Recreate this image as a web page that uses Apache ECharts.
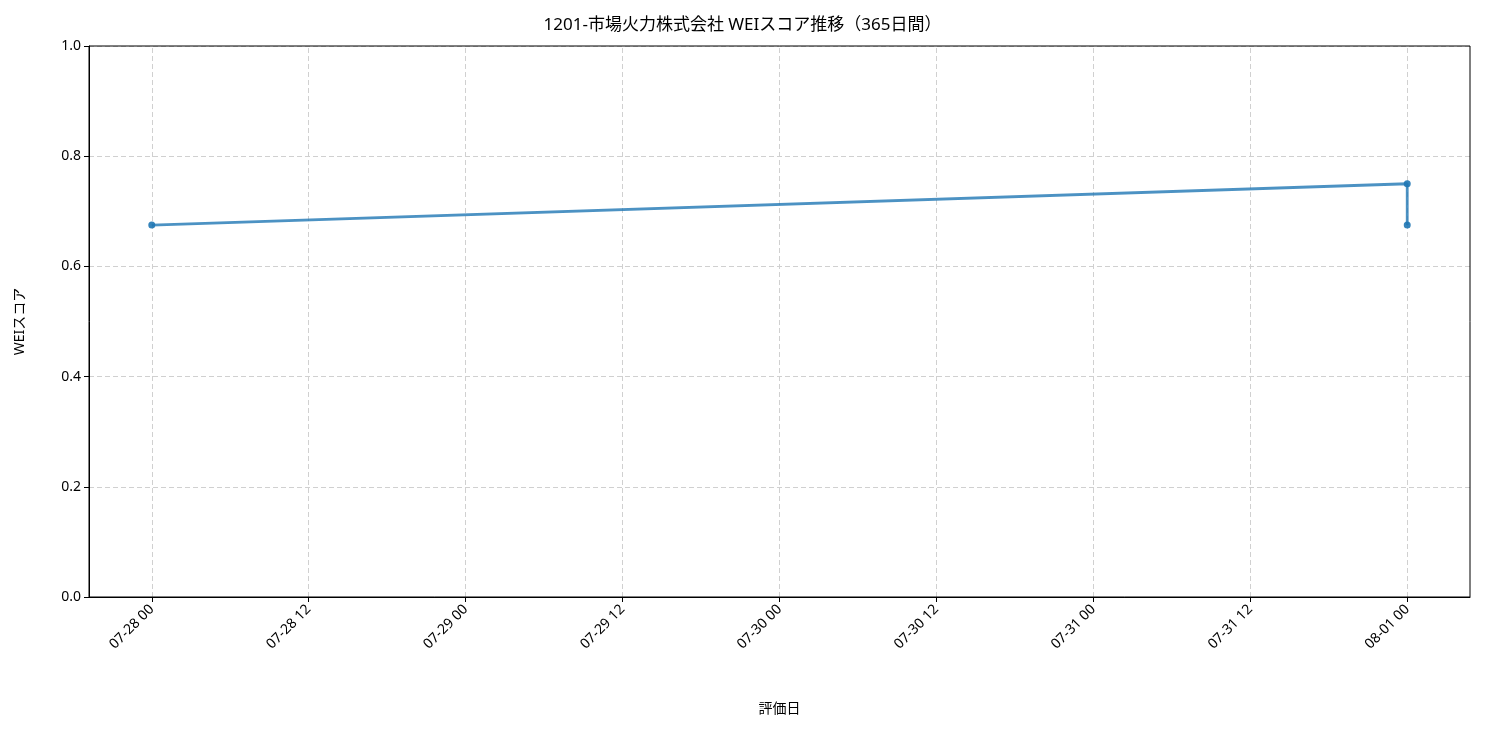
<!DOCTYPE html>
<html><head><meta charset="utf-8">
<script src="https://cdn.jsdelivr.net/npm/echarts@6/dist/echarts.min.js"></script>
<style>html,body{margin:0;padding:0;background:#fff}#c{width:1485px;height:735px}</style>
</head><body><div id="c"></div>
<script>
const dates = ["2025-07-28T00:00", "2025-08-01T00:00", "2025-08-01T00:00"];
const scores = [0.675, 0.75, 0.675];
const tickHours = [0, 12, 24, 36, 48, 60, 72, 84, 96];
const yTicks = [0, 0.2, 0.4, 0.6, 0.8, 1.0];
const base = new Date("2025-07-28T00:00").getTime();
const toH = d => (new Date(d).getTime() - base) / 3600000;
const fmt = h => { const d = new Date(base + h * 3600000); const p = n => String(n).padStart(2, '0'); return p(d.getMonth() + 1) + '-' + p(d.getDate()) + ' ' + p(d.getHours()); };
const font = '"Noto Sans","Noto Sans CJK JP",sans-serif';
const chart = echarts.init(document.getElementById('c'));
chart.setOption({
  animation: false,
  textStyle: { fontFamily: font },
  title: { text: '1201-市場火力株式会社 WEIスコア推移（365日間）', left: 'center', top: 12, textStyle: { fontFamily: font, fontSize: 17, fontWeight: 'normal', color: '#000' } },
  grid: { left: 89, right: 15, top: 46, bottom: 138 },
  xAxis: {
    type: 'value', min: -4.8, max: 100.8,
    name: '評価日', nameLocation: 'middle', nameGap: 105, nameTextStyle: { fontFamily: font, fontSize: 14, color: '#000' },
    axisLine: { onZero: false, lineStyle: { color: '#000' } },
    axisTick: { show: true, customValues: tickHours, length: 5, lineStyle: { color: '#000' } },
    axisLabel: { customValues: tickHours, formatter: v => fmt(v), rotate: 45, fontFamily: font, fontSize: 14, color: '#000', margin: 10 },
    splitLine: { show: false }
  },
  yAxis: {
    type: 'value', min: 0, max: 1, interval: 0.2,
    name: 'WEIスコア', nameLocation: 'middle', nameGap: 62, nameTextStyle: { fontFamily: font, fontSize: 14, color: '#000' },
    axisLine: { show: true, onZero: false, lineStyle: { color: '#000' } },
    axisTick: { show: true, length: 5, lineStyle: { color: '#000' } },
    axisLabel: { formatter: v => v.toFixed(1), fontFamily: font, fontSize: 14, color: '#000' },
    splitLine: { show: true, lineStyle: { type: [5, 3], color: '#d0d0d0' } }
  },
  series: [
    { type: 'line', data: [], silent: true,
      markLine: { silent: true, symbol: 'none', label: { show: false }, lineStyle: { type: [5, 3], color: '#d0d0d0', width: 1 }, data: tickHours.map(h => ({ xAxis: h })) } },
    { type: 'line', z: 5,
      data: dates.map((d, i) => [toH(d), scores[i]]),
      symbol: 'circle', symbolSize: 7,
      lineStyle: { width: 2.8, color: 'rgba(31,119,180,0.8)' },
      itemStyle: { color: 'rgba(31,119,180,0.9)' } }
  ],
  graphic: [{ type: 'rect', shape: { x: 89, y: 46, width: 1381, height: 551 }, style: { fill: 'none', stroke: '#000', lineWidth: 1 }, silent: true, z: 100 }]
});
</script></body></html>
